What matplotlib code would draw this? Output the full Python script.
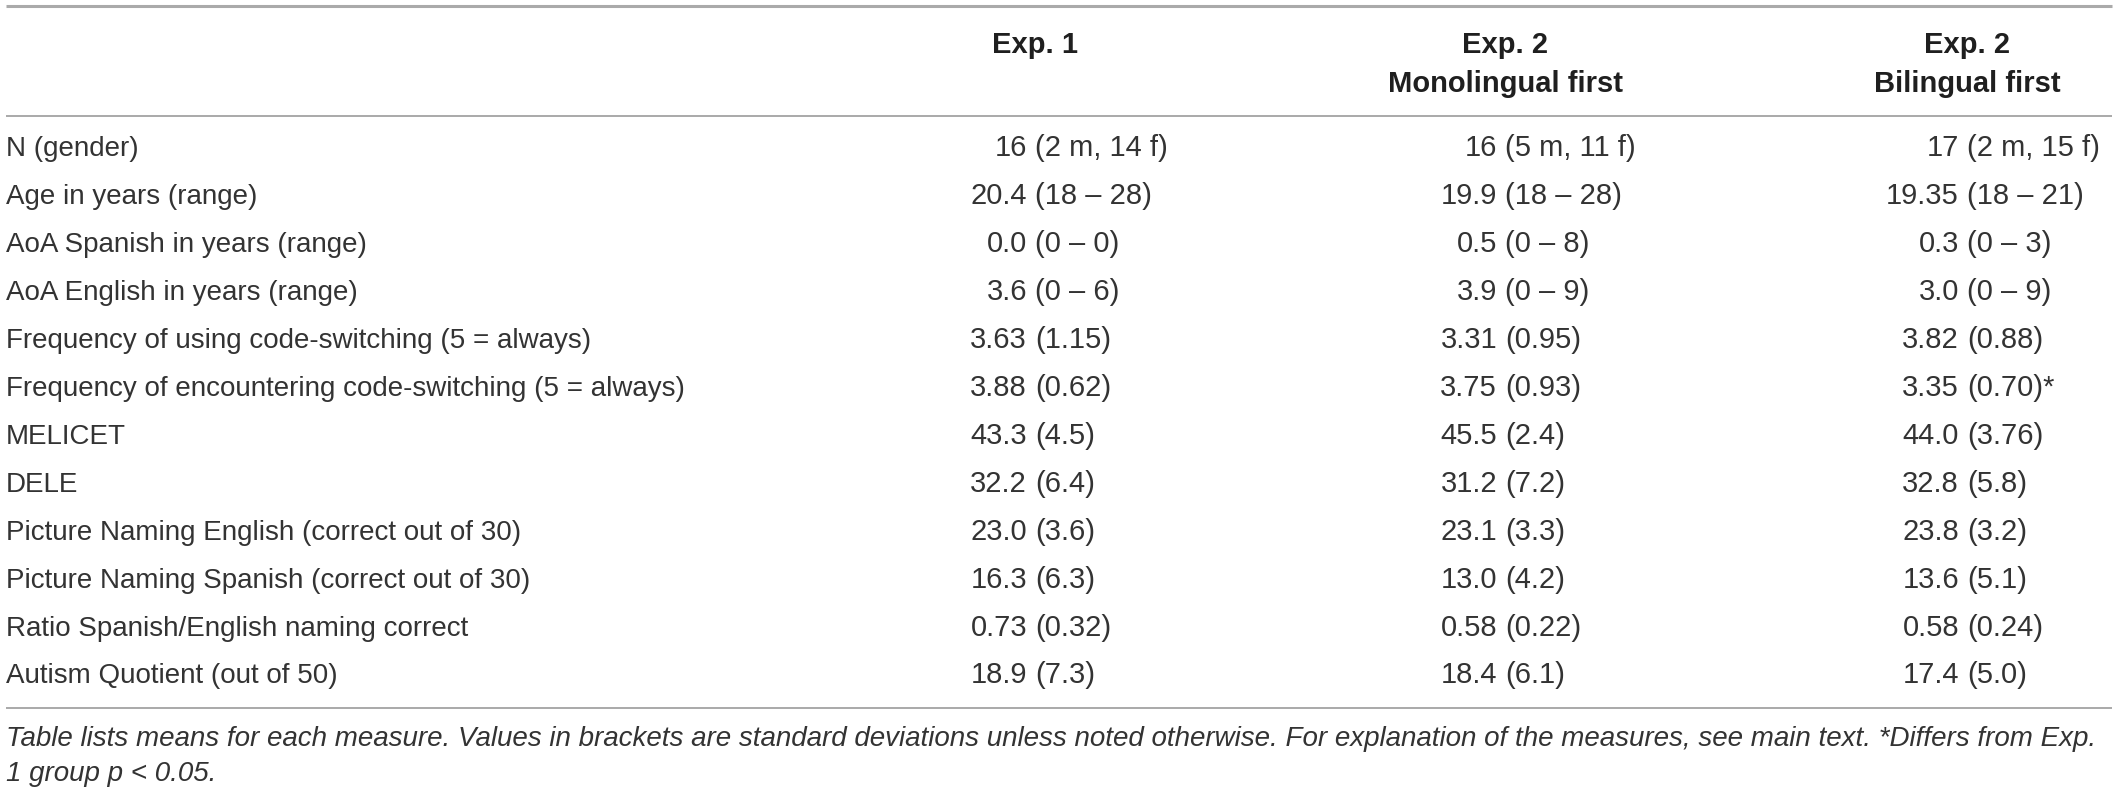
import matplotlib
matplotlib.use("Agg")
import matplotlib.pyplot as plt

# ---- data ----
col_headers = ["Exp. 1", "Exp. 2\nMonolingual first", "Exp. 2\nBilingual first"]
measures = [
    "N (gender)",
    "Age in years (range)",
    "AoA Spanish in years (range)",
    "AoA English in years (range)",
    "Frequency of using code-switching (5 = always)",
    "Frequency of encountering code-switching (5 = always)",
    "MELICET",
    "DELE",
    "Picture Naming English (correct out of 30)",
    "Picture Naming Spanish (correct out of 30)",
    "Ratio Spanish/English naming correct",
    "Autism Quotient (out of 50)",
]
exp1 = ["16 (2 m, 14 f)", "20.4 (18 – 28)", "0.0 (0 – 0)", "3.6 (0 – 6)",
        "3.63 (1.15)", "3.88 (0.62)", "43.3 (4.5)", "32.2 (6.4)",
        "23.0 (3.6)", "16.3 (6.3)", "0.73 (0.32)", "18.9 (7.3)"]
exp2_mono = ["16 (5 m, 11 f)", "19.9 (18 – 28)", "0.5 (0 – 8)", "3.9 (0 – 9)",
             "3.31 (0.95)", "3.75 (0.93)", "45.5 (2.4)", "31.2 (7.2)",
             "23.1 (3.3)", "13.0 (4.2)", "0.58 (0.22)", "18.4 (6.1)"]
exp2_bil = ["17 (2 m, 15 f)", "19.35 (18 – 21)", "0.3 (0 – 3)", "3.0 (0 – 9)",
            "3.82 (0.88)", "3.35 (0.70)*", "44.0 (3.76)", "32.8 (5.8)",
            "23.8 (3.2)", "13.6 (5.1)", "0.58 (0.24)", "17.4 (5.0)"]
footnote = [
    "Table lists means for each measure. Values in brackets are standard deviations unless noted otherwise. For explanation of the measures, see main text. *Differs from Exp.",
    "1 group p < 0.05.",
]

# ---- layout ----
W, H = 2118, 794
fig = plt.figure(figsize=(W / 100, H / 100), dpi=100)
ax = fig.add_axes([0, 0, 1, 1])
ax.set_xlim(0, W)
ax.set_ylim(H, 0)
ax.axis("off")

FONT = "Liberation Sans"
FS_LABEL = 20
FS_VAL = 21
FS_HEAD = 21
FS_FOOT = 20
TXT = "#333333"
HEAD = "#1f1f1f"
LINE = "#a3a3a3"

x_left, x_right = 6, 2112
col_x = [1035, 1505, 1967]   # x of the opening bracket in each column
row_base0, row_dy = 156.5, 47.9

ax.hlines(6, x_left, x_right, color="#aaaaaa", lw=2.2)
ax.hlines(116, x_left, x_right, color=LINE, lw=1.3)
ax.hlines(708, x_left, x_right, color=LINE, lw=1.3)

# headers
head_base = [53, 92]
for cx, head in zip(col_x, col_headers):
    for k, line in enumerate(head.split("\n")):
        ax.text(cx, head_base[k], line, ha="center", va="baseline", fontsize=FS_HEAD,
                fontweight="bold", family=FONT, color=HEAD)

# body
for i, name in enumerate(measures):
    y = row_base0 + i * row_dy
    ax.text(x_left, y, name, ha="left", va="baseline", fontsize=FS_LABEL,
            family=FONT, color=TXT)
    for cx, col in zip(col_x, [exp1, exp2_mono, exp2_bil]):
        head, tail = col[i].split(" (", 1)
        ax.text(cx - 8, y, head, ha="right", va="baseline", fontsize=FS_VAL,
                family=FONT, color=TXT)
        ax.text(cx, y, "(" + tail, ha="left", va="baseline", fontsize=FS_VAL,
                family=FONT, color=TXT)

# footnote
foot_base = [746, 781]
for k, line in enumerate(footnote):
    ax.text(x_left, foot_base[k], line, ha="left", va="baseline", fontsize=FS_FOOT,
            style="italic", family=FONT, color=TXT)

fig.savefig("out.png", dpi=100)
